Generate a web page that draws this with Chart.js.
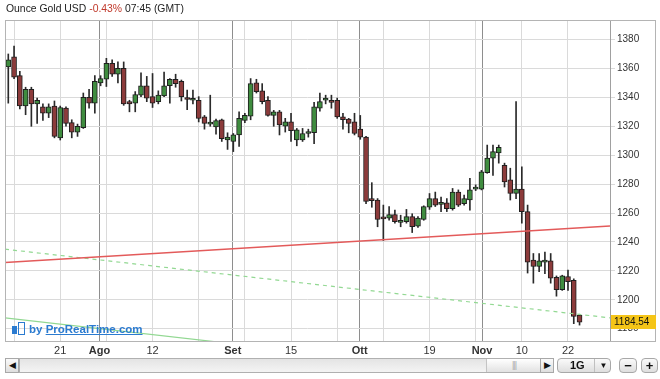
<!DOCTYPE html>
<html>
<head>
<meta charset="utf-8">
<script src="https://cdn.jsdelivr.net/npm/chart.js@4.4.1/dist/chart.umd.min.js"></script>
<style>
  body { margin: 0; background: #fff; font-family: "Liberation Sans", Arial, sans-serif; }
  #wrap { position: relative; width: 660px; height: 379px; overflow: hidden; }
  #chart { position: absolute; left: 0; top: 0; }
  #title { position: absolute; left: 6px; top: 3px; font-size: 10.4px; color: #222; white-space: nowrap; }
  #title .neg { color: #c0392b; }
  #logo { position: absolute; left: 12px; top: 322px; font-size: 11.5px; font-weight: bold; color: #2b7bd0; white-space: nowrap; }
  #logo .ico { display: inline-block; width: 5px; height: 8px; background: #2b7bd0; margin-right: 1px; vertical-align: -1px; }
  #logo .ico2 { display: inline-block; width: 5px; height: 11px; border: 1px solid #2b7bd0; margin-right: 4px; vertical-align: -2px; }
  #logo u { text-decoration: underline; }
  .btn { position: absolute; top: 358px; height: 15px; box-sizing: border-box; border: 1px solid #a8a8a8;
         background: linear-gradient(#fafafa, #dedede); font-size: 9px; color: #111; text-align: center; line-height: 13px; }
  #track { position: absolute; top: 358px; left: 19px; width: 522px; height: 15px; box-sizing: border-box;
           border: 1px solid #b0b0b0; background: linear-gradient(#e4e4e4, #f4f4f4); }
  #thumb { position: absolute; top: 0; left: 466px; width: 54px; height: 13px;
           background: linear-gradient(#ffffff, #e2e2e2); border-left: 1px solid #c4c4c4; color: #aaa; font-size: 9px;
           text-align: center; line-height: 13px; letter-spacing: -1px; }
  .round { border-radius: 4px; }
</style>
</head>
<body>
<div id="wrap">
  <canvas id="chart" width="660" height="360"></canvas>
  <div id="title">Ounce Gold USD <span class="neg">-0.43%</span> 07:45 (GMT)</div>
  <div id="logo"><span class="ico"></span><span class="ico2"></span>by <u>ProRealTime.com</u></div>
  <div class="btn" style="left:5px;width:14px;">&#9664;</div>
  <div id="track"><div id="thumb">|||</div></div>
  <div class="btn" style="left:540px;width:14px;">&#9654;</div>
  <div class="btn round" style="left:557px;width:54px;font-size:11px;font-weight:bold;text-align:left;">
    <span style="position:absolute;left:12px;">1G</span>
    <span style="position:absolute;left:36px;top:0;width:17px;height:13px;border-left:1px solid #c0c0c0;font-size:8px;text-align:center;">&#9660;</span>
  </div>
  <div class="btn round" style="left:619px;width:18px;font-size:13px;font-weight:bold;">&minus;</div>
  <div class="btn round" style="left:641px;width:17px;font-size:13px;font-weight:bold;">+</div>
</div>
<script>
// daily candles
const opens = [1361, 1368, 1355, 1334, 1345.5, 1335.5, 1333.5, 1329, 1334, 1312,
  1332.5, 1322.5, 1316, 1319, 1340, 1336, 1350, 1352.5, 1363.5, 1356,
  1360, 1337, 1336, 1341.5, 1348, 1340.5, 1337, 1341, 1348, 1352.5,
  1351, 1339, 1338, 1338, 1326.5, 1321.5, 1319.5, 1324.5, 1310.5, 1309.5,
  1314, 1324, 1327, 1350, 1344.5, 1338, 1327.5, 1330, 1320, 1323,
  1310.5, 1310.5, 1315, 1315.5, 1332.5, 1338, 1337.5, 1338, 1326.5, 1325,
  1323, 1318, 1312.5, 1270, 1269, 1256.5, 1256.5, 1259, 1253.5, 1254,
  1257.5, 1251, 1255.5, 1264, 1270, 1266, 1267, 1263, 1274.5, 1266.5,
  1269, 1276.5, 1276.5, 1288, 1298, 1301.5, 1293, 1283, 1273.5, 1276.5,
  1261, 1227.5, 1223, 1226, 1227, 1215.5, 1207, 1216, 1213.5, 1189.5];
const highs = [1370, 1375.5, 1358, 1347, 1347, 1339.5, 1335.5, 1335.5, 1337.5, 1334,
  1333.5, 1324.5, 1321.5, 1343, 1345.5, 1355, 1355, 1367, 1366, 1364.5,
  1364.5, 1338, 1344, 1357, 1354.5, 1356.5, 1344.5, 1357.5, 1353, 1356,
  1352, 1345, 1345, 1340.5, 1327.5, 1341.5, 1325, 1325, 1315.5, 1315,
  1330, 1329, 1353, 1352.5, 1349.5, 1340.5, 1331, 1331, 1325.5, 1329,
  1318.5, 1318.5, 1318, 1336.5, 1343, 1341.5, 1341.5, 1339.5, 1329, 1325.5,
  1329, 1327.5, 1313, 1281, 1270, 1265.5, 1264.5, 1262, 1258.5, 1262.5,
  1259.5, 1257.5, 1265, 1273.5, 1274.5, 1271, 1270, 1277, 1276, 1272.5,
  1284, 1279.5, 1289.5, 1307, 1307, 1307, 1294.5, 1291, 1337, 1292,
  1265.5, 1232, 1232, 1233, 1232, 1216.5, 1217, 1220.5, 1214.5, 1190];
const lows = [1336, 1353, 1332, 1328, 1320, 1322, 1324, 1326, 1312, 1310.5,
  1320, 1312, 1313, 1318.5, 1332.5, 1329, 1348, 1347.5, 1354.5, 1350,
  1334.5, 1330, 1330, 1340.5, 1337, 1333, 1335.5, 1340.5, 1336, 1347,
  1337.5, 1331.5, 1335.5, 1323, 1318, 1320, 1314.5, 1309.5, 1304, 1302.5,
  1306, 1322.5, 1324.5, 1343, 1335.5, 1327, 1320, 1314, 1316, 1309.5,
  1306.5, 1309.5, 1312.5, 1308, 1330.5, 1335.5, 1332.5, 1325.5, 1318, 1315.5,
  1314, 1311, 1266.5, 1264, 1250.5, 1241, 1255, 1253, 1250.5, 1253,
  1246.5, 1250, 1255, 1262.5, 1264.5, 1261, 1261, 1262, 1264.5, 1265.5,
  1262, 1275.5, 1276, 1287.5, 1286, 1294.5, 1278, 1269, 1270, 1253,
  1218.5, 1211.5, 1219.5, 1218, 1211.5, 1202.5, 1206.5, 1206.5, 1183.5, 1182.5];
const closes = [1366, 1354, 1334, 1345.5, 1335.5, 1338, 1329, 1333.5, 1313, 1333,
  1322, 1316, 1320, 1340, 1336, 1351, 1353, 1363.5, 1356, 1360,
  1335.5, 1335.5, 1342, 1348, 1339.5, 1336, 1341.5, 1348, 1352.5, 1349.5,
  1340.5, 1338.5, 1338.5, 1325.5, 1322, 1322.5, 1324, 1311.5, 1312.5, 1314,
  1325.5, 1327.5, 1349.5, 1344, 1337, 1327.5, 1330, 1321, 1323, 1317,
  1317.5, 1315, 1316, 1333.5, 1337, 1339.5, 1336.5, 1326.5, 1324.5, 1322,
  1315, 1312.5, 1268, 1268.5, 1255.5, 1256, 1259, 1254, 1254.5, 1257.5,
  1250.5, 1256.5, 1264.5, 1270, 1265.5, 1267, 1263, 1274.5, 1265.5, 1270,
  1276, 1277.5, 1288.5, 1298, 1302.5, 1305.5, 1281.5, 1273.5, 1276.5, 1261,
  1226, 1223, 1227, 1226.5, 1215, 1207, 1216.5, 1212.5, 1188.5, 1184.54];

// x axis: grid positions (candle index), labels, month separators
const xTickPos = [1, 9, 15.8, 17, 25, 33, 38.9, 41, 49, 57, 60.9, 65, 73, 81, 82.1, 89, 97];
const xTickText = ['', '21', 'Ago', '', '12', '', 'Set', '', '15', '', 'Ott', '', '19', '', 'Nov', '10', '22'];
const monthTicks = ['Ago', 'Set', 'Ott', 'Nov'];
const yTicks = [1180, 1200, 1220, 1240, 1260, 1280, 1300, 1320, 1340, 1360, 1380];

// trend lines (value at left edge, value at right edge)
const redTrend = [1225.8, 1251.1];
const greenDashed = [1235, 1187.5];
const greenSolid = [1187.5, 1140];

const xMin = -0.57;
const xMax = 104.28;
const upColor = '#3f8c3f';
const downColor = '#8c3b3b';

const wickData = highs.map((h, i) => ({ x: i, y: [lows[i], h] }));
const bodyData = closes.map((c, i) => ({ x: i, y: [opens[i], c] }));
const bodyColors = closes.map((c, i) => c >= opens[i] ? upColor : downColor);

function trend(vals) {
    return [{ x: xMin, y: vals[0] }, { x: xMax, y: vals[1] }];
}

const frame = {
    id: 'frame',
    afterDraw(chart) {
        const ctx = chart.ctx;
        const a = chart.chartArea;
        ctx.save();
        ctx.strokeStyle = '#b4b4b4';
        ctx.lineWidth = 1;
        ctx.strokeRect(a.left + 0.5, a.top + 0.5, 655 - a.left, a.bottom - a.top);
        // last price box
        const y = chart.scales.y.getPixelForValue(closes[closes.length - 1]);
        ctx.fillStyle = '#f5c518';
        ctx.fillRect(a.right + 1, Math.round(y) - 7, 45, 14);
        ctx.fillStyle = '#111';
        ctx.font = '10px "Liberation Sans", Arial, sans-serif';
        ctx.textBaseline = 'middle';
        ctx.fillText(closes[closes.length - 1].toFixed(2), a.right + 4, Math.round(y) + 0.5);
        ctx.restore();
    }
};

new Chart(document.getElementById('chart'), {
    type: 'bar',
    data: {
        datasets: [
            {
                type: 'line',
                data: trend(redTrend),
                borderColor: '#e35a5a',
                borderWidth: 1.5,
                pointRadius: 0,
                order: 0
            },
            {
                type: 'line',
                data: trend(greenDashed),
                borderColor: '#92d892',
                borderWidth: 1.2,
                borderDash: [4, 4],
                pointRadius: 0,
                order: 0
            },
            {
                type: 'line',
                data: trend(greenSolid),
                borderColor: '#92d892',
                borderWidth: 1.2,
                pointRadius: 0,
                order: 0
            },
            {
                data: bodyData,
                backgroundColor: bodyColors,
                borderColor: '#1e1e1e',
                borderWidth: 1,
                borderSkipped: false,
                barThickness: 5,
                minBarLength: 2,
                grouped: false,
                order: 1
            },
            {
                data: wickData,
                backgroundColor: '#2a2a2a',
                borderWidth: 0,
                barThickness: 1,
                grouped: false,
                order: 2
            }
        ]
    },
    options: {
        responsive: false,
        animation: false,
        events: [],
        layout: { padding: { left: 5, top: 20, right: 0, bottom: 0 } },
        plugins: {
            legend: { display: false },
            tooltip: { enabled: false }
        },
        scales: {
            x: {
                type: 'linear',
                min: xMin,
                max: xMax,
                offset: false,
                afterBuildTicks: scale => {
                    scale.ticks = xTickPos.map(v => ({ value: v }));
                },
                afterFit: scale => { scale.height = 19; },
                ticks: {
                    autoSkip: false,
                    maxRotation: 0,
                    padding: 3,
                    color: '#333',
                    font: ctx => ({
                        size: 11,
                        family: '"Liberation Sans", Arial, sans-serif',
                        weight: monthTicks.includes(xTickText[ctx.index]) ? 'bold' : 'normal'
                    }),
                    callback: (value, index) => xTickText[index]
                },
                grid: {
                    offset: false,
                    drawTicks: false,
                    color: ctx => monthTicks.includes(xTickText[ctx.index]) ? '#8e8e8e' : '#dadada'
                },
                border: { color: '#b4b4b4' }
            },
            y: {
                position: 'right',
                min: 1171.5,
                max: 1393.5,
                afterBuildTicks: scale => {
                    scale.ticks = yTicks.map(v => ({ value: v }));
                },
                afterFit: scale => { scale.width = 50; },
                ticks: {
                    padding: 2,
                    color: '#333',
                    font: { size: 10, family: '"Liberation Sans", Arial, sans-serif' },
                    callback: value => String(value)
                },
                grid: {
                    color: '#dadada',
                    tickLength: 5
                },
                border: { color: '#a0a0a0' }
            }
        }
    },
    plugins: [frame]
});
</script>
</body>
</html>
